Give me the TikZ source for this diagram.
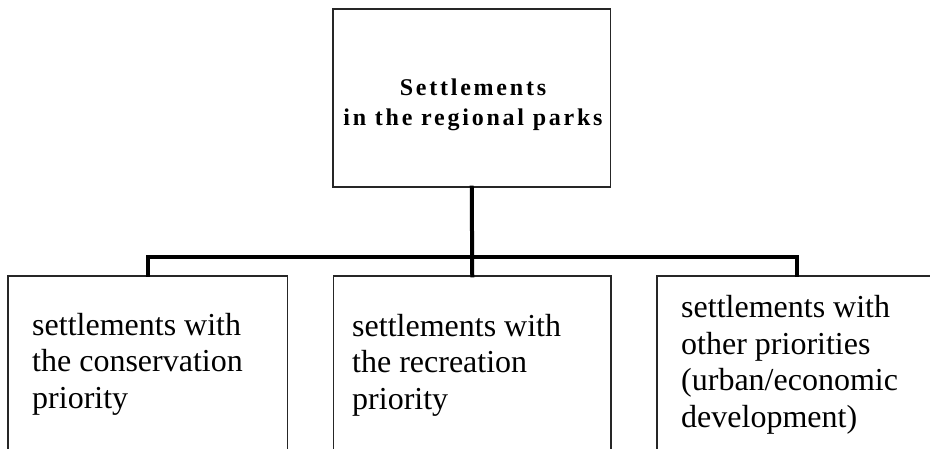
\documentclass[tikz,border=0pt]{standalone}
\usepackage{fontspec}
\setmainfont{Liberation Serif}
\newfontfamily\spacedfont[LetterSpace=11.5]{Liberation Serif}
\begin{document}
\begin{tikzpicture}[x=1pt,y=-1pt,
  box/.style={draw=black!85,line width=1.3pt,rectangle,inner sep=0pt},
  conn/.style={draw=black,line width=4pt,line join=miter,line cap=rect},
  toptext/.style={font=\spacedfont\bfseries\fontsize{24}{30.5}\selectfont,align=center,inner sep=0pt,anchor=base},
  lowtext/.style={font=\fontsize{32}{36.5}\selectfont,align=left,inner sep=0pt,anchor=base west}]
\useasboundingbox (0,0) rectangle (930,449);
\clip (0,0) rectangle (930,449);
\node[box,minimum width=277.5pt,minimum height=178pt] (top) at (471.75,98) {};
\node[box,minimum width=279.5pt,minimum height=200pt] (left) at (147.75,376) {};
\node[box,minimum width=277.5pt,minimum height=200pt] (mid) at (472.25,376) {};
\node[box,minimum width=280pt,minimum height=200pt] (right) at (797,376) {};
\draw[conn] (top.south) -- (mid.north);
\draw[conn] (left.north) -- ++(0,-18) -| (right.north);
\node[toptext] (ttop) at (473,126) {Settlements\\in the regional parks};
\node[lowtext] (tleft) at (32,408) {settlements with\\the conservation\\priority};
\node[lowtext] (tmid) at (352,409) {settlements with\\the recreation\\priority};
\node[lowtext] (tright) at (681,427) {settlements with\\other priorities\\(urban/economic\\development)};
\end{tikzpicture}
\end{document}
